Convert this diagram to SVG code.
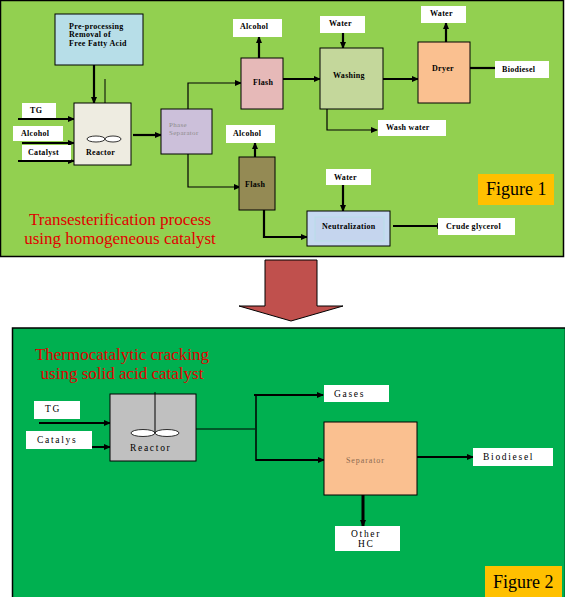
<svg xmlns="http://www.w3.org/2000/svg" width="565" height="597" viewBox="0 0 565 597">
<defs>
<marker id="ah" markerWidth="7" markerHeight="6" refX="6" refY="3" orient="auto" markerUnits="userSpaceOnUse">
<path d="M0,0 L7,3 L0,6 Z" fill="#000"/>
</marker>
<style>
.box{stroke:#000;stroke-width:1}
.lbl{fill:#fff}
.t{font-family:"Liberation Serif",serif;font-size:8px;font-weight:bold;letter-spacing:0.3px;fill:#000}
.t2{font-family:"Liberation Serif",serif;font-size:9.5px;letter-spacing:1.7px;fill:#000}
.thick{stroke:#000;stroke-width:2.2;fill:none;marker-end:url(#ah)}
.thin{stroke:#000;stroke-width:1.2;fill:none;marker-end:url(#ah)}
.red{font-family:"Liberation Serif",serif;font-size:17px;fill:#e00000}
.fig{font-family:"Liberation Serif",serif;font-size:18px;fill:#000}
</style>
</defs>
<rect width="565" height="597" fill="#fff"/>
<!-- Figure 1 panel -->
<rect x="0.5" y="0.5" width="563" height="256" fill="#92D050" stroke="#000" stroke-width="1.5"/>
<!-- Figure 2 panel -->
<rect x="12.5" y="328" width="553" height="270" fill="#00B050" stroke="#000" stroke-width="1.5"/>
<!-- big arrow -->
<path d="M265,260 L317,260 L317,306 L343,306 L291,321 L239,306 L265,306 Z" fill="#C0504D" stroke="#000" stroke-width="1"/>

<g id="connectors">
<line x1="94" y1="65" x2="94" y2="103" class="thick"/>
<line x1="105" y1="79" x2="105" y2="139" stroke="#000" stroke-width="1"/>
<line x1="18" y1="119" x2="74" y2="119" class="thick"/>
<line x1="22" y1="143" x2="74" y2="143" class="thick"/>
<line x1="18" y1="161" x2="74" y2="161" class="thick"/>
<line x1="133" y1="135" x2="161" y2="135" class="thick"/>
<polyline points="188,109 188,83 241,83" class="thin"/>
<polyline points="188,154 188,187 240,187" class="thin"/>
<line x1="259" y1="58" x2="259" y2="37" class="thick"/>
<line x1="255" y1="157" x2="255" y2="143" class="thick"/>
<polyline points="264,210 264,237 307,237" class="thick"/>
<line x1="283" y1="79" x2="320" y2="79" class="thick"/>
<line x1="343" y1="33" x2="343" y2="48" class="thick"/>
<line x1="383" y1="79" x2="418" y2="79" class="thick"/>
<line x1="446" y1="42" x2="446" y2="23" class="thick"/>
<line x1="470" y1="68" x2="502" y2="68" class="thick"/>
<polyline points="327,109 327,130 377,130" class="thin"/>
<line x1="343" y1="185" x2="343" y2="211" class="thick"/>
<line x1="393" y1="226" x2="443" y2="226" class="thick"/>
<!-- figure 2 -->
<line x1="39" y1="423" x2="110" y2="423" class="thick"/>
<line x1="40" y1="447" x2="110" y2="447" class="thick"/>
<line x1="196" y1="429" x2="255" y2="429" stroke="#000" stroke-width="1"/>
<line x1="256" y1="394" x2="256" y2="461" stroke="#000" stroke-width="1.5"/>
<line x1="254" y1="395" x2="323" y2="395" class="thick"/>
<line x1="256" y1="460" x2="324" y2="460" class="thick"/>
<line x1="417" y1="457" x2="473" y2="457" class="thick"/>
<line x1="363" y1="495" x2="363" y2="526" stroke="#000" stroke-width="3" marker-end="url(#ah)"/>
</g>

<g id="preprocessing">
<rect x="55" y="14" width="88" height="51" fill="#B7DEE8" class="box"/>
<text class="t" x="69" y="29">Pre-processing</text>
<text class="t" x="69" y="37">Removal of</text>
<text class="t" x="69" y="46">Free Fatty Acid</text>
</g>
<g id="reactor1">
<rect x="74" y="103" width="57" height="62" fill="#EEECE1" class="box"/>
<ellipse cx="96" cy="139" rx="9" ry="3" fill="#fff" stroke="#000" stroke-width="0.8"/>
<ellipse cx="113" cy="139" rx="8" ry="3" fill="#fff" stroke="#000" stroke-width="0.8"/>
<text class="t" x="86" y="155">Reactor</text>
</g>
<g id="tg1"><rect x="22" y="103" width="34" height="15" class="lbl"/><text class="t" x="30" y="113">TG</text></g>
<g id="alcohol1"><rect x="13" y="126" width="50" height="15" class="lbl"/><text class="t" x="21" y="136">Alcohol</text></g>
<g id="catalyst1"><rect x="22" y="145" width="49" height="15" class="lbl"/><text class="t" x="28" y="155">Catalyst</text></g>
<g id="phasesep">
<rect x="161" y="109" width="51" height="45" fill="#CCC0DA" class="box"/>
<text class="t" x="169" y="127" style="fill:#8c8c8c;font-weight:normal;font-size:7px">Phase</text>
<text class="t" x="169" y="135" style="fill:#8c8c8c;font-weight:normal;font-size:7px">Separator</text>
</g>
<g id="flash1">
<rect x="241" y="58" width="42" height="51" fill="#E6B9B8" class="box"/>
<text class="t" x="253" y="85">Flash</text>
</g>
<g id="alcohol2"><rect x="233" y="19" width="49" height="18" class="lbl"/><text class="t" x="240" y="29">Alcohol</text></g>
<g id="flash2">
<rect x="239" y="157" width="36" height="53" fill="#948A54" class="box"/>
<text class="t" x="245" y="187">Flash</text>
</g>
<g id="alcohol3"><rect x="226" y="125" width="49" height="18" class="lbl"/><text class="t" x="233" y="136">Alcohol</text></g>
<g id="water1"><rect x="320" y="16" width="45" height="17" class="lbl"/><text class="t" x="329" y="26">Water</text></g>
<g id="washing">
<rect x="320" y="48" width="63" height="61" fill="#C4D79B" class="box"/>
<text class="t" x="333" y="78">Washing</text>
</g>
<g id="water2"><rect x="421" y="6" width="45" height="17" class="lbl"/><text class="t" x="430" y="16">Water</text></g>
<g id="dryer">
<rect x="418" y="42" width="52" height="61" fill="#FAC090" class="box"/>
<text class="t" x="432" y="71">Dryer</text>
</g>
<g id="biodiesel1"><rect x="495" y="61" width="54" height="17" class="lbl"/><text class="t" x="502" y="72">Biodiesel</text></g>
<g id="washwater"><rect x="378" y="120" width="68" height="16" class="lbl"/><text class="t" x="386" y="130">Wash water</text></g>
<g id="water3"><rect x="326" y="169" width="45" height="16" class="lbl"/><text class="t" x="334" y="180">Water</text></g>
<g id="neutralization">
<rect x="307" y="211" width="83" height="35" fill="#C6D9F1" class="box"/>
<rect x="315" y="217" width="69" height="24" fill="#C5D5EE" stroke="#B7DEE8" stroke-width="1"/>
<text class="t" x="322" y="229">Neutralization</text>
</g>
<g id="crudeglycerol"><rect x="438" y="218" width="77" height="17" class="lbl"/><text class="t" x="446" y="229">Crude glycerol</text></g>
<g id="figure1"><rect x="478" y="174" width="76" height="31" fill="#FFC000"/><text class="fig" x="486" y="195">Figure 1</text></g>
<text class="red" x="120" y="225" text-anchor="middle">Transesterification process</text>
<text class="red" x="120" y="244" text-anchor="middle">using homogeneous catalyst</text>

<!-- Figure 2 -->
<text class="red" x="122" y="360" text-anchor="middle">Thermocatalytic cracking</text>
<text class="red" x="122" y="379" text-anchor="middle">using solid acid catalyst</text>
<g id="reactor2">
<rect x="110" y="394" width="86" height="67" fill="#C0C0C0" class="box"/>
<ellipse cx="143" cy="433" rx="12" ry="3.5" fill="#fff" stroke="#000" stroke-width="0.8"/>
<ellipse cx="167" cy="433" rx="12" ry="3.5" fill="#fff" stroke="#000" stroke-width="0.8"/>
<line x1="155" y1="392" x2="155" y2="433" stroke="#000" stroke-width="1"/>
<text class="t2" x="130" y="451">Reactor</text>
</g>
<g id="tg2"><rect x="34" y="401" width="46" height="18" class="lbl"/><text class="t2" x="45" y="412">TG</text></g>
<g id="catalys2"><rect x="26" y="431" width="66" height="18" class="lbl"/><text class="t2" x="37" y="443">Catalys</text></g>
<g id="gases"><rect x="324" y="385" width="65" height="17" class="lbl"/><text class="t2" x="334" y="397">Gases</text></g>
<g id="separator">
<rect x="324" y="422" width="93" height="73" fill="#FAC090" class="box"/>
<text class="t2" x="346" y="463" style="fill:#8c6a50;font-size:8px;letter-spacing:0.9px">Separator</text>
</g>
<g id="biodiesel2"><rect x="473" y="448" width="80" height="18" class="lbl"/><text class="t2" x="483" y="460">Biodiesel</text></g>
<g id="otherhc"><rect x="335" y="526" width="65" height="25" class="lbl"/><text class="t2" x="351" y="537">Other</text><text class="t2" x="358" y="547">HC</text></g>
<g id="figure2"><rect x="485" y="566" width="77" height="31" fill="#FFC000"/><text class="fig" x="493" y="588">Figure 2</text></g>
</svg>
